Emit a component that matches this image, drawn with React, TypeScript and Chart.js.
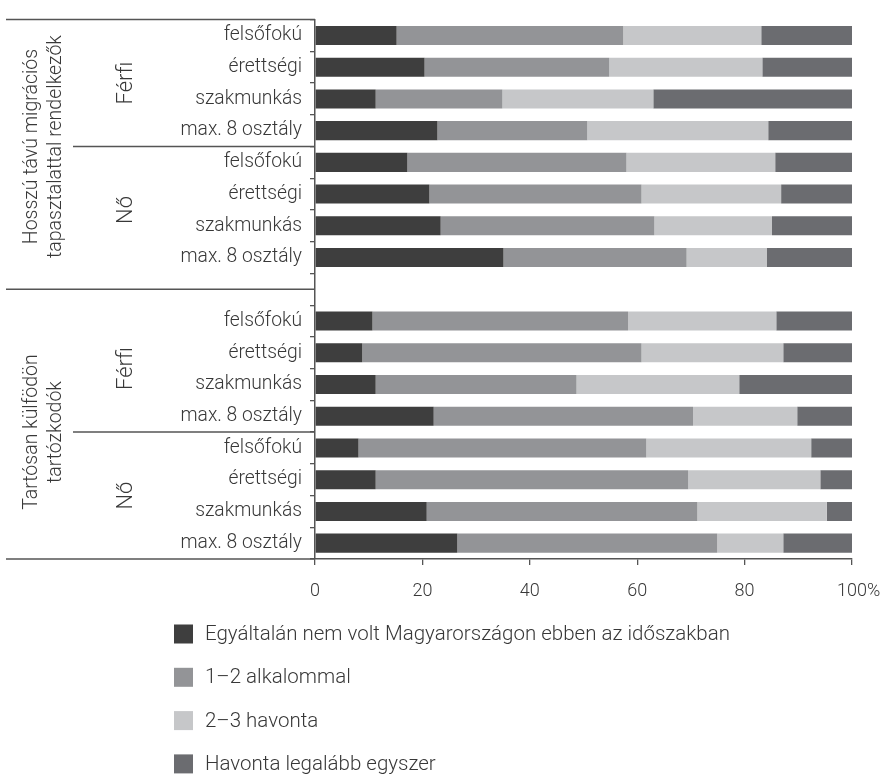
import React, { useEffect, useRef } from 'react';
import { Chart, registerables } from 'chart.js';

Chart.register(...registerables);

const categories = [
  'felsőfokú', 'érettségi', 'szakmunkás', 'max. 8 osztály',
  'felsőfokú', 'érettségi', 'szakmunkás', 'max. 8 osztály',
  '',
  'felsőfokú', 'érettségi', 'szakmunkás', 'max. 8 osztály',
  'felsőfokú', 'érettségi', 'szakmunkás', 'max. 8 osztály',
];

const seriesNames = [
  'Egyáltalán nem volt Magyarországon ebben az időszakban',
  '1–2 alkalommal',
  '2–3 havonta',
  'Havonta legalább egyszer',
];
const seriesColors = ['#3e3e3e', '#939497', '#c6c7c9', '#6b6c70'];

const egyaltalan = [15.2, 20.4, 11.3, 22.8, 17.2, 21.3, 23.4, 35.1, null, 10.7, 8.8, 11.3, 22.1, 8.1, 11.3, 20.8, 26.5];
const egyKetAlkalom = [42.2, 34.4, 23.6, 27.9, 40.8, 39.5, 39.8, 34.1, null, 47.6, 52.0, 37.4, 48.3, 53.6, 58.2, 50.4, 48.4];
const ketHaromHavonta = [25.7, 28.5, 28.1, 33.7, 27.7, 26.0, 21.9, 14.9, null, 27.6, 26.4, 30.3, 19.4, 30.7, 24.6, 24.1, 12.3];
const havontaEgyszer = [16.9, 16.7, 37.0, 15.6, 14.3, 13.2, 14.9, 15.9, null, 14.1, 12.8, 21.0, 10.2, 7.6, 5.9, 4.7, 12.8];

const groupNames = [
  ['Hosszú távú migrációs', 'tapasztalattal rendelkezők'],
  ['Tartósan külfödön', 'tartózkodók'],
];
const genderNames = ['Férfi', 'Nő', 'Férfi', 'Nő'];
const xTicks = [0, 20, 40, 60, 80, 100];
const percentSign = '%';

const FONT = 'Roboto';
const TEXT = '#383838';
const LINE = '#555555';
const TICK_FONT_SIZE = 18;

const groupPlugin = {
  id: 'groupLabels',
  afterDraw(chart: any) {
    const ctx = chart.ctx as CanvasRenderingContext2D;
    const ys = chart.scales.y;
    const xs = chart.scales.x;
    const area = chart.chartArea;
    const rowH = (area.bottom - area.top) / categories.length;
    const c = (i: number) => ys.getPixelForValue(i);
    const edgeTop = (i: number) => c(i) - rowH / 2;
    ctx.save();
    ctx.strokeStyle = LINE;
    ctx.lineWidth = 1.5;
    const hline = (yy: number, x0: number) => {
      ctx.beginPath();
      ctx.moveTo(x0, yy);
      ctx.lineTo(area.left, yy);
      ctx.stroke();
    };
    hline(area.top, 6);
    hline(c(8), 6);
    hline(area.bottom, 6);
    hline(edgeTop(4), 73);
    hline(edgeTop(13), 73);

    ctx.fillStyle = TEXT;
    ctx.textAlign = 'center';
    ctx.textBaseline = 'middle';
    const vtext = (txt: string, x: number, yc: number, size: number) => {
      ctx.save();
      ctx.translate(x, yc);
      ctx.rotate(-Math.PI / 2);
      ctx.font = `300 ${size}px ${FONT}`;
      ctx.fillText(txt, 0, 0);
      ctx.restore();
    };
    const genderRanges = [[0, 3], [4, 7], [9, 12], [13, 16]];
    genderRanges.forEach((r, k) => {
      const yc = (edgeTop(r[0]) + edgeTop(r[1]) + rowH) / 2;
      vtext(genderNames[k], 126, yc, 22);
    });
    const groupRanges = [[0, 7], [9, 16]];
    groupRanges.forEach((r, k) => {
      const yc = (edgeTop(r[0]) + edgeTop(r[1]) + rowH) / 2;
      vtext(groupNames[k][0], 32, yc, 19.5);
      vtext(groupNames[k][1], 56, yc, 19.5);
    });

    // percent sign after the last x tick label
    try {
      const items = xs.getLabelItems ? xs.getLabelItems() : xs._labelItems;
      if (items && items.length) {
        const it = items[items.length - 1];
        const o = it.options || it;
        const tr = o.translation || [xs.getPixelForValue(100), area.bottom + 22];
        ctx.font = `300 ${TICK_FONT_SIZE}px ${FONT}`;
        const w = ctx.measureText(String(it.label)).width;
        ctx.fillStyle = TEXT;
        ctx.textAlign = 'left';
        ctx.textBaseline = o.textBaseline || 'middle';
        ctx.fillText(percentSign, tr[0] + w / 2, tr[1] + (it.textOffset || 0));
      }
    } catch (e) {
      /* ignore */
    }

    const lx = 174;
    const ly0 = 634;
    const step = 43.3;
    chart.data.datasets.forEach((ds: any, i: number) => {
      const yy = ly0 + i * step;
      ctx.fillStyle = ds.backgroundColor;
      ctx.fillRect(lx, yy - 9.5, 19, 19);
      ctx.fillStyle = TEXT;
      ctx.textAlign = 'left';
      ctx.textBaseline = 'middle';
      ctx.font = `300 20.5px ${FONT}`;
      ctx.fillText(ds.label, lx + 31, yy + 1);
    });
    ctx.restore();
  },
};

export default function App() {
  const ref = useRef<HTMLCanvasElement | null>(null);
  useEffect(() => {
    if (!ref.current) return;
    const datasets = [egyaltalan, egyKetAlkalom, ketHaromHavonta, havontaEgyszer].map((d, i) => ({
      label: seriesNames[i],
      data: d,
      backgroundColor: seriesColors[i],
      borderWidth: 0,
      barPercentage: 0.6,
      categoryPercentage: 1,
    }));
    const chart = new Chart(ref.current, {
      type: 'bar',
      data: { labels: categories, datasets },
      options: {
        indexAxis: 'y',
        animation: false,
        responsive: true,
        maintainAspectRatio: false,
        layout: { padding: { top: 7, right: 33, left: 0, bottom: 0 } },
        plugins: {
          legend: { display: false },
          tooltip: { enabled: false },
        },
        scales: {
          x: {
            stacked: true,
            min: 0,
            max: 100,
            afterBuildTicks: (scale: any) => {
              scale.ticks = xTicks.map((v) => ({ value: v }));
            },
            afterFit: (scale: any) => {
              scale.height = 216;
            },
            ticks: {
              color: TEXT,
              font: { family: FONT, size: TICK_FONT_SIZE, weight: '300' as any },
              padding: 16,
              callback: (v: any) => String(v),
              maxRotation: 0,
            },
            grid: {
              display: true,
              drawOnChartArea: false,
              drawTicks: true,
              tickLength: 6,
              color: LINE,
              lineWidth: 1.3,
            },
            border: { display: true, color: LINE, width: 1.5 },
          },
          y: {
            stacked: true,
            afterFit: (scale: any) => {
              scale.width = 315;
            },
            ticks: {
              color: TEXT,
              font: { family: FONT, size: 19.3, weight: '300' as any },
              padding: 8,
              autoSkip: false,
            },
            grid: {
              display: true,
              drawOnChartArea: false,
              drawTicks: true,
              tickLength: 5,
              offset: true,
              color: LINE,
              lineWidth: 1.3,
            },
            border: { display: true, color: LINE, width: 1.5 },
          },
        },
      },
      plugins: [groupPlugin],
    });
    return () => chart.destroy();
  }, []);
  return (
    <div style={{ position: 'absolute', left: 0, top: 0, width: 885, height: 775, background: '#fff' }}>
      <canvas ref={ref} />
    </div>
  );
}
